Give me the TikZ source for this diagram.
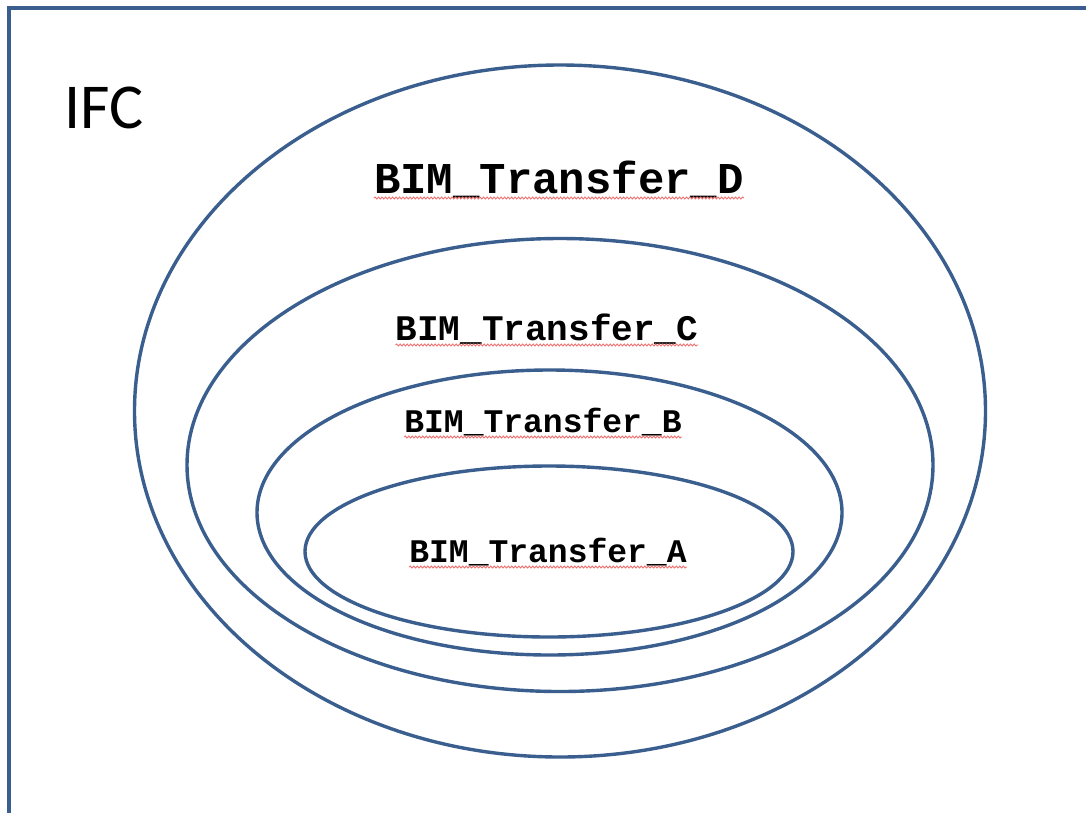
\documentclass[tikz,border=0pt]{standalone}
\usepackage{fontspec}
\usetikzlibrary{decorations.pathmorphing}
\newfontfamily\ifcfont{Carlito}
\newfontfamily\monofont{Liberation Mono}
\definecolor{edgeblue}{HTML}{3A5F8F}
\definecolor{spellred}{HTML}{F07070}
\tikzset{
  ring/.style={draw=edgeblue, line width=3.4pt},
  frameline/.style={draw=edgeblue, line width=4pt},
  lbl/.style={anchor=base, inner sep=0pt, font=\monofont\bfseries},
  wavy/.style={draw=spellred, line width=0.9pt, decorate, decoration={snake, amplitude=1pt, segment length=3.5pt}}
}
\begin{document}
\begin{tikzpicture}[x=1pt, y=-1pt]
\useasboundingbox (0,0) rectangle (1086,812);
\clip (0,0) rectangle (1086,812);
\fill[white] (0,0) rectangle (1086,812);
% frame
\draw[frameline] (1100,8) -- (9,8) -- (9,830);
\node[anchor=base west, inner sep=0pt, font=\ifcfont\fontsize{64}{64}\selectfont] (ifc) at (64,128) {IFC};
% ellipses
\draw[ring] (560,411) ellipse [x radius=425.5, y radius=346];
\draw[ring] (560,465) ellipse [x radius=373, y radius=226.5];
\draw[ring] (549.5,512.5) ellipse [x radius=292.5, y radius=142.5];
\draw[ring] (549,551.5) ellipse [x radius=244, y radius=85.5];
% labels
\node[lbl, font=\monofont\bfseries\fontsize{44}{44}\selectfont] (d) at (559,193) {BIM\_Transfer\_D};
\node[lbl, font=\monofont\bfseries\fontsize{36}{36}\selectfont] (c) at (547,340) {BIM\_Transfer\_C};
\node[lbl, font=\monofont\bfseries\fontsize{33}{33}\selectfont] (b) at (543,432) {BIM\_Transfer\_B};
\node[lbl, font=\monofont\bfseries\fontsize{33}{33}\selectfont] (a) at (548,562) {BIM\_Transfer\_A};
% spell-check underlines
\foreach \n in {d,c,b,a} {
  \draw[wavy] ([yshift=-5pt]\n.base west) -- ([yshift=-5pt]\n.base east);
}
\end{tikzpicture}
\end{document}
